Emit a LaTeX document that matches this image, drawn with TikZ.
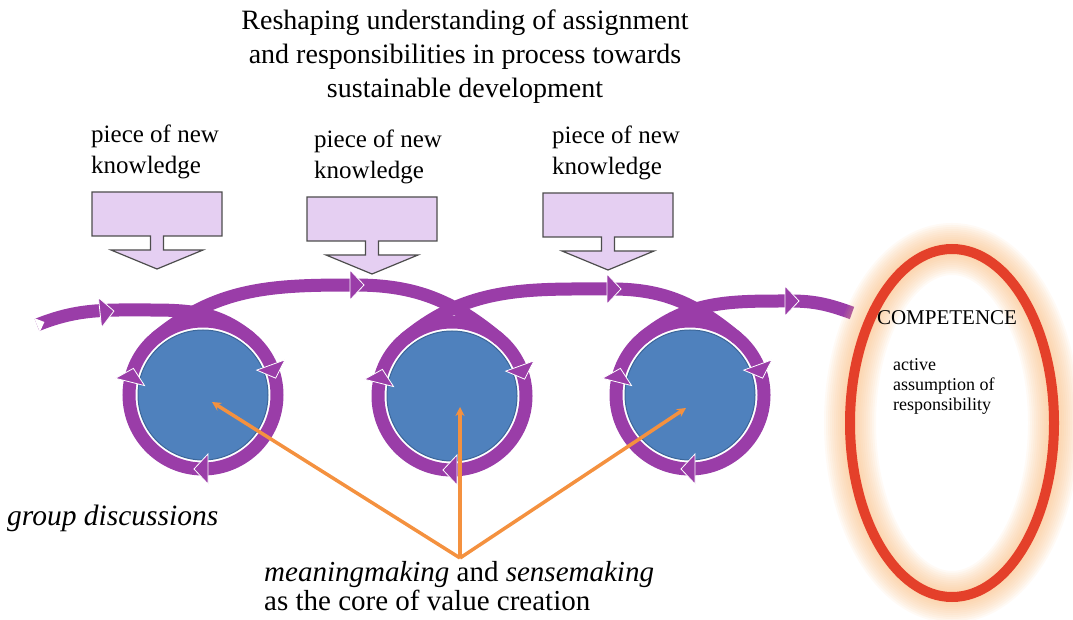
\documentclass[tikz,border=0pt]{standalone}
\usepackage{fontspec}
\setmainfont{Liberation Serif}
\usetikzlibrary{arrows.meta,positioning,calc,shapes.geometric}
\definecolor{loopc}{HTML}{9A3DA8}
\definecolor{discfill}{HTML}{4F81BD}
\definecolor{discline}{HTML}{3C679A}
\definecolor{boxfill}{HTML}{E5CFF2}
\definecolor{boxline}{HTML}{4D4D4D}
\definecolor{spokec}{HTML}{F4913F}
\definecolor{ringred}{HTML}{E4402A}
\definecolor{glowc}{HTML}{F9B97A}

\begin{document}
\begin{tikzpicture}[x=1pt,y=1pt,
  disc/.style={circle, fill=discfill, draw=discline, line width=1pt, minimum size=130pt, inner sep=0pt},
  trail/.style={loopc, line width=13pt},
  spoke/.style={spokec, line width=3.5pt, -{Stealth[length=9pt,width=9pt]}},
  txtbig/.style={font=\fontsize{28}{34}\selectfont, inner sep=0pt},
  txtmid/.style={font=\fontsize{25}{31}\selectfont, align=left, inner sep=0pt},
  chev/.pic={\fill[loopc, draw=white, line width=0.8pt] (-5,-15) -- (9,0) -- (-5,15) -- cycle;},
  know/.pic={\draw[boxline, fill=boxfill, line width=1.2pt] (-65,22) -- (65,22) -- (65,-22) -- (6.5,-22) -- (6.5,-36) -- (46,-36) -- (0,-55) -- (-46,-36) -- (-6.5,-36) -- (-6.5,-22) -- (-65,-22) -- cycle;}]
\useasboundingbox (0,0) rectangle (1073,619);

% title
\node[txtbig, align=center, anchor=north] (title) at (465,609)
  {Reshaping understanding of assignment\\and responsibilities in process towards\\sustainable development};

% pieces of new knowledge
\pic at (157,405) {know};
\pic at (372,400) {know};
\pic at (608,404) {know};
\node[txtmid, anchor=south west] (kn1) at (91,440) {piece of new\\knowledge};
\node[txtmid, anchor=south west] (kn2) at (314,435) {piece of new\\knowledge};
\node[txtmid, anchor=south west] (kn3) at (552,439) {piece of new\\knowledge};

% discussion circles
\node[disc] (c1) at (203,224) {};
\node[disc] (c2) at (452,223) {};
\node[disc] (c3) at (690,224) {};
\foreach \c in {c1,c2,c3}
  \draw[trail] (\c) circle[radius=74];

% the loop line
\coordinate (tail) at (37,294);
\coordinate (p0) at (150,309);
\coordinate (p1) at (355,334);
\coordinate (p2) at (612,330);
\coordinate (p3) at (790,318);
\coordinate (fin) at (852,306);
\draw[trail] (tail) to[out=22,in=180] (p0) to[out=0,in=140] ($(c1)+(50:74)$);
\draw[trail] ($(c1)+(130:74)$) to[out=40,in=180] (p1) to[out=0,in=140] ($(c2)+(50:74)$);
\draw[trail] ($(c2)+(130:74)$) to[out=40,in=180] (p2) to[out=0,in=140] ($(c3)+(50:74)$);
\draw[trail] ($(c3)+(130:74)$) to[out=40,in=180] (p3) to[out=0,in=160] (fin);
\fill[white] ($(tail)+(112:7.5)$) -- ($(tail)+(22:8)$) -- ($(tail)+(-68:7.5)$) -- cycle;
\pic[rotate=6] at (105,307) {chev};
\foreach \p in {p1,p2,p3}
  \pic at (\p) {chev};
\foreach \c in {c1,c2,c3}
  \foreach \a in {20,-90,166}
    \pic[rotate=\a-90] at ($(\c)+(\a:74)$) {chev};

% competence
\foreach \w in {52,48,...,12}
  \draw[glowc, line width=\w, opacity=0.08] (952,196) ellipse[x radius=102, y radius=174];
\node[ellipse, draw=ringred, line width=10pt, minimum width=204pt, minimum height=348pt] (comp) at (952,196) {};
\node[font=\fontsize{21}{24}\selectfont, inner sep=0pt] (comptxt) at (947,301) {COMPETENCE};
\node[font=\fontsize{18}{20}\selectfont, align=left, inner sep=0pt, anchor=north west] (resp) at (893,261)
  {active\\assumption of\\responsibility};

% meaning making
\coordinate (apex) at (460,61);
\coordinate (t1) at (212,217);
\coordinate (t2) at (460,212);
\coordinate (t3) at (686,211);
\foreach \t in {t1,t2,t3}
  \draw[spoke] (apex) -- (\t);
\node[txtbig, font=\fontsize{29.5}{33}\selectfont, anchor=base west] (grp) at (7,94) {\itshape group discussions};
\node[txtbig, font=\fontsize{29}{29}\selectfont, align=left, anchor=north west] (core) at (264,58)
  {\textit{meaningmaking} and \textit{sensemaking}\\as the core of value creation};
\end{tikzpicture}
\end{document}
